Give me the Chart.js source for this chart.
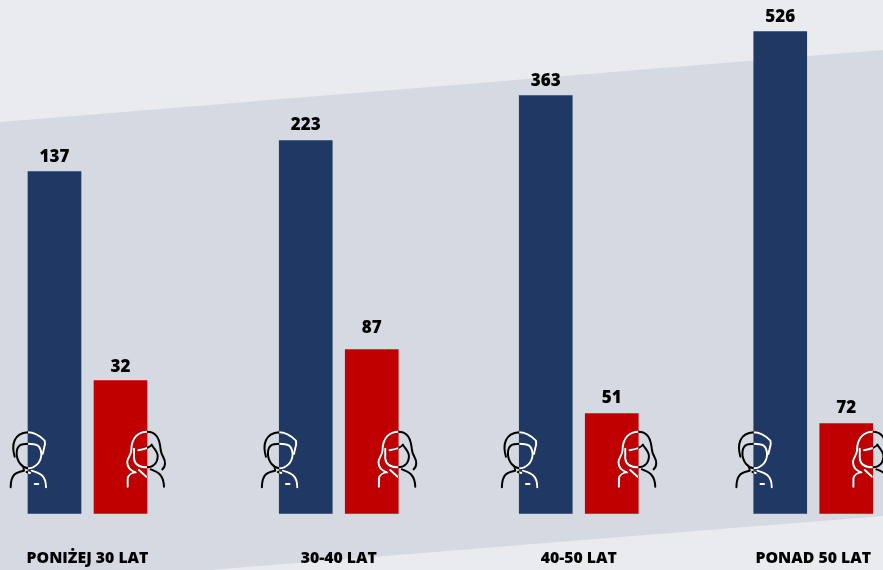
<!DOCTYPE html>
<html lang="pl">
<head>
  <meta charset="UTF-8">
  <title>Wiek i płeć</title>
  <script src="https://cdn.jsdelivr.net/npm/chart.js"></script>
  <style>
    html, body { margin: 0; padding: 0; background: #e9ebef; overflow: hidden; }
    #band {
      position: absolute; left: 0; top: 0; width: 883px; height: 570px;
      background: #d5d9e2;
      clip-path: polygon(0 122px, 883px 50px, 883px 516px, 210px 570px, 0 570px);
    }
    #wrap { position: absolute; left: 0; top: 0; width: 883px; height: 570px; }
  </style>
</head>
<body>
  <div id="band"></div>
  <div id="wrap"><canvas id="chart" width="883" height="570"></canvas></div>

  <script>
    const categories = ['PONIŻEJ 30 LAT', '30-40 LAT', '40-50 LAT', 'PONAD 50 LAT'];
    // printed numbers
    const menLabels = [137, 223, 363, 526];
    const womenLabels = [32, 87, 51, 72];
    // bar heights as drawn: the picture does not scale them to the printed numbers
    const menHeights = [342, 373, 418, 482];
    const womenHeights = [133, 164, 100, 90];
    // the groups are not evenly spaced in the picture
    const groupShift = [0.5, 9.75, 7.75, 0.25];
    // gap between bar top and its number, not constant either
    const menLabelGap = [10, 11, 10, 10];
    const womenLabelGap = [9, 17, 11, 11];

    class ShiftedCategory extends Chart.CategoryScale {
      getPixelForValue(value) {
        const i = typeof value === 'number' ? value : this.parse(value);
        return super.getPixelForValue(value) + (groupShift[i] || 0);
      }
    }
    ShiftedCategory.id = 'shiftedCategory';
    ShiftedCategory.defaults = {};
    Chart.register(ShiftedCategory);

    // icons are sketched on a 3x grid, origin at the bar edge
    const manIcon = [
      'M-40 320 C-50 285 -44 250 0 247 C25 247 40 262 50 272 L51 282 L44 312',
      'M-34 310 C-34 285 -20 281 0 281 C25 281 38 285 40 312 C40 338 20 355 0 355 C-18 352 -34 335 -34 310 Z',
      'M-14 352 L-12 362 C-35 366 -52 372 -52 412',
      'M11 362 C30 368 54 372 54 412',
      'M-4 366 L6 369',
      'M20 402 L31 402'
    ].map(d => new Path2D(d));
    const womanIcon = [
      'M-58 410 L-58 385 C-56 375 -45 368 -34 367 C-50 362 -60 350 -59 335 C-58 320 -48 318 -47 300 C-47 262 -25 245 0 245 C28 245 38 265 41 300 C44 320 55 325 54 340 C54 348 50 355 46 358',
      'M-39 296 L-39 325 C-37 345 -20 352 0 352 C18 352 32 340 32 318 C32 305 22 298 14 284 C10 292 -10 298 -26 301',
      'M-24 360 L-2 380',
      'M11 358 C30 365 50 372 51 410'
    ].map(d => new Path2D(d));

    function drawIcon(ctx, paths, edgeX, barEl) {
      const barLeft = barEl.x - barEl.width / 2;
      const stroke = (colour) => {
        ctx.save();
        ctx.translate(edgeX, 350);
        ctx.scale(1 / 3, 1 / 3);
        ctx.strokeStyle = colour;
        ctx.lineWidth = 6;
        ctx.lineCap = 'round';
        ctx.lineJoin = 'round';
        paths.forEach(p => ctx.stroke(p));
        ctx.restore();
      };
      stroke('#000000');
      ctx.save();
      ctx.beginPath();
      ctx.rect(barLeft, barEl.y, barEl.width, barEl.base - barEl.y);
      ctx.clip();
      stroke('#ffffff');
      ctx.restore();
    }

    const barExtras = {
      id: 'barExtras',
      afterDatasetsDraw(chart) {
        const ctx = chart.ctx;
        const men = chart.getDatasetMeta(0).data;
        const women = chart.getDatasetMeta(1).data;

        ctx.save();
        ctx.fillStyle = '#000000';
        ctx.font = '800 17px "Open Sans"';
        ctx.textAlign = 'center';
        ctx.textBaseline = 'alphabetic';
        men.forEach((bar, i) => ctx.fillText(menLabels[i], bar.x, bar.y - menLabelGap[i]));
        women.forEach((bar, i) => ctx.fillText(womenLabels[i], bar.x, bar.y - womenLabelGap[i]));
        ctx.restore();

        men.forEach(bar => drawIcon(ctx, manIcon, bar.x - bar.width / 2, bar));
        women.forEach(bar => drawIcon(ctx, womanIcon, bar.x + bar.width / 2, bar));
      }
    };

    new Chart(document.getElementById('chart'), {
      type: 'bar',
      data: {
        labels: categories,
        datasets: [
          { label: 'Mężczyźni', data: menHeights, backgroundColor: '#1f3864', clip: false },
          { label: 'Kobiety', data: womenHeights, backgroundColor: '#c00000', clip: false }
        ]
      },
      options: {
        responsive: false,
        animation: false,
        barThickness: 66,
        maxBarThickness: 53,
        layout: { padding: { left: 87, right: 70, top: 0, bottom: 0 } },
        plugins: { legend: { display: false }, tooltip: { enabled: false } },
        scales: {
          x: {
            type: 'shiftedCategory',
            offset: false,
            grid: { display: false },
            border: { display: false },
            afterFit(scale) {
              scale.height = 56.5;
              scale.paddingLeft = 0;
              scale.paddingRight = 0;
            },
            ticks: {
              autoSkip: false,
              maxRotation: 0,
              padding: 28,
              color: '#000000',
              font: { family: 'Open Sans', weight: '800', size: 15.8 },
              callback(value) { return this.getLabelForValue(value); }
            }
          },
          y: { display: false, min: 0, max: 513.5 }
        }
      },
      plugins: [barExtras]
    });
  </script>
</body>
</html>
